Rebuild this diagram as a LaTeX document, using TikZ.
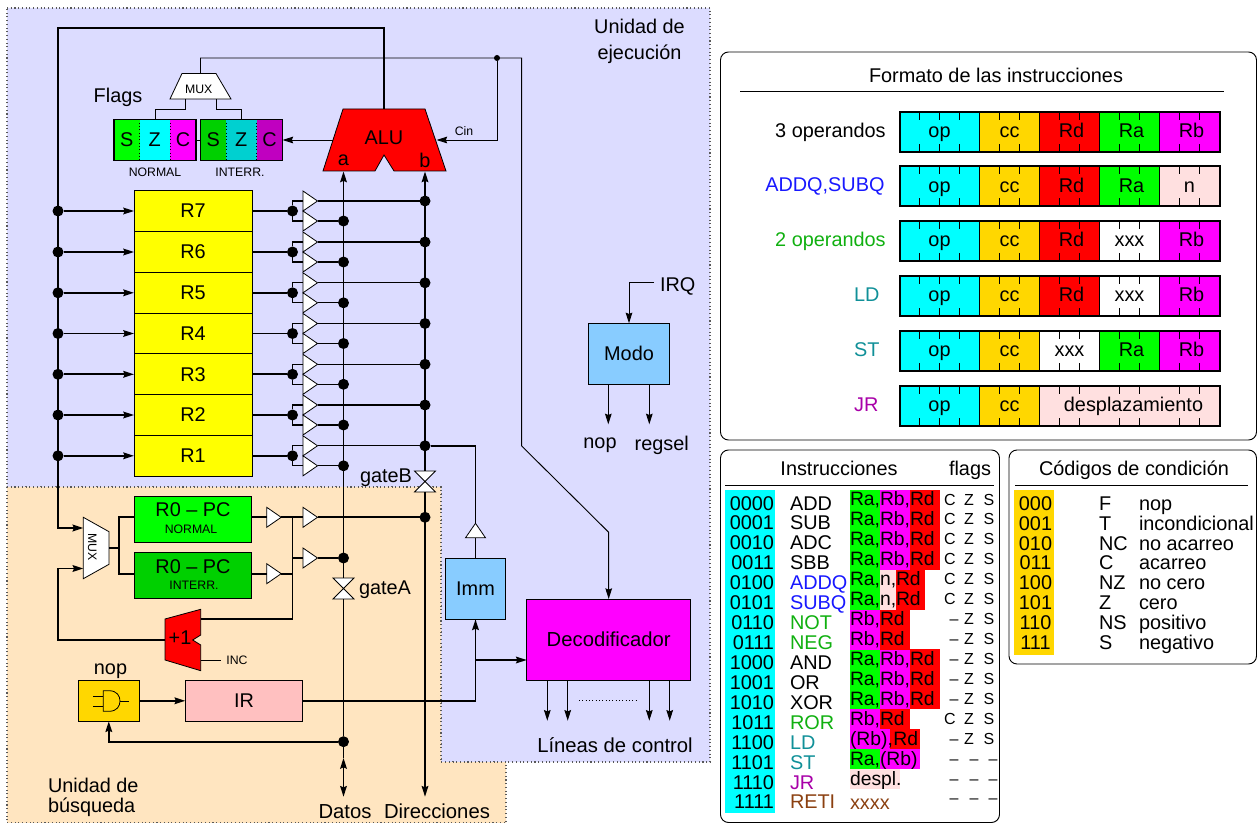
\documentclass[tikz,border=0pt]{standalone}
\usepackage{fontspec}
\setmainfont{Liberation Sans}
\usetikzlibrary{arrows.meta,shapes.geometric}

\definecolor{cyan}{RGB}{0,255,255}
\definecolor{magenta}{RGB}{255,0,255}
\definecolor{yellow}{RGB}{255,255,0}
\definecolor{green}{RGB}{0,255,0}
\definecolor{red}{RGB}{255,0,0}
\definecolor{execblue}{HTML}{DCDCFF}
\definecolor{fetchorange}{HTML}{FFE5C0}
\definecolor{boxblue}{HTML}{88CCFF}
\definecolor{gold}{HTML}{FFD700}
\definecolor{palepink}{HTML}{FFE0E0}
\definecolor{irpink}{HTML}{FFC0C0}
\definecolor{dimgreen}{HTML}{00D000}
\definecolor{dimcyan}{HTML}{00D0D0}
\definecolor{dimmagenta}{HTML}{C000C0}
\definecolor{txtblue}{HTML}{1818FF}
\definecolor{txtgreen}{HTML}{10B010}
\definecolor{txtteal}{HTML}{109098}
\definecolor{txtpurple}{HTML}{A800A8}
\definecolor{txtbrown}{HTML}{8B4010}

\newcommand{\px}{0.75pt}
\newcommand{\mainfont}{\fontsize{14.9pt}{17pt}\selectfont}
\newcommand{\widefont}{\fontsize{15.2pt}{17pt}\selectfont}
\newcommand{\tinyfont}{\fontsize{9.2pt}{11pt}\selectfont}
\newcommand{\flagfont}{\fontsize{12pt}{14pt}\selectfont}

\tikzset{
  every node/.style={inner sep=0pt, outer sep=0pt, font=\mainfont},
  bus/.style={line width=1.3pt},
  ctl/.style={line width=0.7pt},
  junction/.style={circle, fill=black, minimum size=11*\px},
  block/.style={draw, line width=0.7pt, minimum width=#1*\px},
  buf/.style={isosceles triangle, isosceles triangle stretches,
    draw, fill=white, line width=0.6pt, minimum width=20*\px, minimum height=14.5*\px},
  muxshape/.style={draw, fill=white, line width=0.6pt},
  flagbit/.style={minimum height=41*\px, minimum width=#1*\px, anchor=west},
  panel/.style={draw, line width=0.7pt, rounded corners=6pt, anchor=north west},
  fieldbox/.style={draw, line width=0.5pt, minimum height=40*\px, text height=11pt, text depth=2.6pt},
  fmtlabel/.style={anchor=base east},
  opfield/.style={anchor=base west, text width=#1*\px, align=left, text height=12pt, text depth=3pt,
    font=\fontsize{14.5pt}{17pt}\selectfont},
}

% one field of an instruction word
\newcommand{\fmtfield}[6]{\node[fieldbox, fill=#4, minimum width=#3*20*\px, anchor=north west] (#6) at ({899.5+#2*20},#1) {#5};}
% pass gate of the two buses
\newcommand{\passgate}[3]{
  \coordinate (#1top) at (#2,#3-10.5);
  \coordinate (#1bot) at (#2,#3+10.5);
  \draw[fill=white, line width=0.6pt] (#2-10.5,#3-10.5) -- (#2+10.5,#3-10.5) -- (#2-10.5,#3+10.5) -- (#2+10.5,#3+10.5) -- cycle;
}

\begin{document}
\begin{tikzpicture}[x=\px, y=-\px, >={Stealth[length=8pt,width=5pt,inset=1pt]}]
  \path[use as bounding box] (0,0) rectangle (1257,823);
  % Shaded units
  \draw[dotted, gray!70!black, line width=0.8pt, fill=execblue] (7,8) -- (710,8) -- (710,762) -- (441,762) -- (441,487) -- (7,487) -- cycle;
  \draw[dotted, gray!70!black, line width=0.8pt, fill=fetchorange] (7,487) -- (441,487) -- (441,762) -- (506,762) -- (506,823) -- (7,823) -- cycle;
  \node[align=center, font=\fontsize{14.9pt}{20pt}\selectfont] (unitexec) at (639.5,41.5) {Unidad de\\ejecución};
  \node[align=left, anchor=west, font=\fontsize{14.9pt}{15pt}\selectfont] (unitfetch) at (48,797) {Unidad de\\búsqueda};

  % ALU
  \draw[fill=red, line width=0.6pt] (343,109) -- (425,109) -- (446,171) -- (394,171) -- (384,155) -- (375,171) -- (323,171) -- cycle;
  \node (alu) at (384,138) {ALU};
  \node (alua) at (343.5,160) {a};
  \node (alub) at (425,160) {b};
  \coordinate (aluina) at (343.5,171.5);
  \coordinate (aluinb) at (425,171.5);
  \coordinate (aluout) at (384,109);
  \coordinate (aluflag) at (333,140);
  \coordinate (alucin) at (436.5,140);

  % Flags
  \node (flagstxt) at (118,97) {Flags};
  \node[flagbit=25.5, fill=green] (sn) at (114,140) {S};
  \node[flagbit=30.5, fill=cyan] (zn) at (sn.east) {Z};
  \node[flagbit=26, fill=magenta] (cn) at (zn.east) {C};
  \node[flagbit=25.5, fill=dimgreen] (si) at (200.5,140) {S};
  \node[flagbit=30.5, fill=dimcyan] (zi) at (si.east) {Z};
  \node[flagbit=26, fill=dimmagenta] (ci) at (zi.east) {C};
  \draw[line width=0.8pt] (sn.north west) rectangle (cn.south east);
  \draw[line width=0.8pt] (si.north west) rectangle (ci.south east);
  \draw[dotted, line width=0.5pt] (sn.north east) -- (sn.south east);
  \draw[dotted, line width=0.5pt] (zn.north east) -- (zn.south east);
  \draw[dotted, line width=0.5pt] (si.north east) -- (si.south east);
  \draw[dotted, line width=0.5pt] (zi.north east) -- (zi.south east);
  \node[font=\tinyfont] (normaltxt) at (155,172) {NORMAL};
  \node[font=\tinyfont] (interrtxt) at (240,172) {INTERR.};
  \draw[ctl] (cn.east) -- (si.west);
  \draw[ctl,->] (aluflag) -- (ci.east);

  % Flags multiplexer
  \draw[muxshape] (170,99) -- (182,73.5) -- (216,73.5) -- (231,99) -- cycle;
  \node[font=\tinyfont] (topmux) at (198.7,89.3) {MUX};
  \coordinate (topmuxin) at (200.5,73.5);
  \coordinate (topmuxl) at (185,99);
  \coordinate (topmuxr) at (216,99);
  \draw[ctl] (topmuxl) -- (185,109.5) -- (155,109.5) -- (155,119.5);
  \draw[ctl] (topmuxr) -- (216,109.5) -- (241.5,109.5) -- (241.5,119.5);

  % Registers with their tri-state buffers
  \foreach \n/\y in {7/211,6/252,5/292.8,4/333.5,3/374.3,2/415,1/455.8} {
    \node[block=118, fill=yellow, minimum height=40.8*\px] (r\n) at (193,\y) {R\n};
    \node[junction] (sel\n) at (58,\y) {};
    \node[junction] (out\n) at (292.5,\y) {};
    \node[buf, anchor=lower side] (bufb\n) at (303,\y-10) {};
    \node[buf, anchor=lower side] (bufa\n) at (303,\y+10) {};
    \node[junction] (dotb\n) at (425,\y-10) {};
    \node[junction] (dota\n) at (343.5,\y+10) {};
    \draw[bus,->] (sel\n) -- (r\n);
    \draw[bus] (r\n) -- (out\n);
    \draw[line width=1pt] (bufb\n.lower side) -| (out\n);
    \draw[line width=1pt] (bufa\n.lower side) -| (out\n);
    \draw[line width=1pt] (bufb\n.apex) -- (dotb\n);
    \draw[line width=1pt] (bufa\n.apex) -- (dota\n);
  }

  % Program counters
  \node[block=117.5, fill=green, minimum height=46*\px] (pcn) at (193,519.7) {};
  \node (pcntxt) at (193,510) {R0 -- PC};
  \node[font=\tinyfont] (pcnsub) at (191,529) {NORMAL};
  \node[block=117.5, fill=dimgreen, minimum height=46.3*\px] (pci) at (193,575.8) {};
  \node (pcitxt) at (193,567) {R0 -- PC};
  \node[font=\tinyfont] (pcisub) at (194,585) {INTERR.};
  \draw[muxshape] (83.3,517.3) -- (109,531.7) -- (109,564.3) -- (83.3,578.7) -- cycle;
  \node[font=\tinyfont, rotate=-90] (lowmux) at (92.3,546.7) {MUX};
  \coordinate (lowmuxa) at (83.3,528);
  \coordinate (lowmuxb) at (83.3,568.5);
  \coordinate (lowmuxout) at (109,548);
  \coordinate (pcfork) at (119,548);
  \node[buf, anchor=lower side] (bufpcn) at (266.7,517.3) {};
  \node[buf, anchor=lower side] (bufpci) at (266.7,573.7) {};
  \node[buf, anchor=lower side] (bufdir) at (303,517.3) {};
  \node[buf, anchor=lower side] (bufdat) at (303,558) {};
  \coordinate (pcbus) at (292.5,517.3);
  \coordinate (pcbusend) at (292.5,619.3);
  \draw[bus] (lowmuxout) -- (pcfork);
  \draw[bus] (pcn.west |- bufpcn.lower side) -- (pcfork |- bufpcn.lower side) -- (pcfork |- bufpci.lower side) -- (pci.west |- bufpci.lower side);
  \draw[bus] (pcn.east |- bufpcn.lower side) -- (bufpcn.lower side);
  \draw[bus] (pci.east |- bufpci.lower side) -- (bufpci.lower side);
  \draw[bus] (bufpcn.apex) -- (bufdir.lower side);
  \draw[bus] (bufpci.apex) -- (pcbus |- bufpci.apex);

  % Incrementer
  \draw[fill=red, line width=0.6pt] (165,619) -- (200.7,609.3) -- (200.7,635) -- (192.7,640) -- (200.7,645) -- (200.7,670.7) -- (165,660) -- cycle;
  \node (inc) at (180,638) {+1};
  \node[font=\tinyfont] (inctxt) at (237,660.5) {INC};
  \coordinate (incin) at (165,640);
  \coordinate (incout) at (200.7,619.3);
  \coordinate (incctl) at (200.7,660.5);
  \draw[bus] (pcbus) -- (pcbusend) -- (incout);
  \draw[ctl] (incctl) -- (221,660.5);
  \draw[bus,->] (incin) -- (57.7,640) -- (57.7,568.5) -- (lowmuxb);

  % Result bus back to the registers
  \draw[line width=1.6pt,->] (aluout) -- (384,28) -- (58,28) -- (58,528) -- (lowmuxa);

  % Instruction register and nop gate
  \node[block=61, fill=gold, minimum height=41*\px] (nopgate) at (108.8,700.8) {};
  \node (noptxt) at (110.5,671) {nop};
  \draw[line width=0.6pt] (103.3,690.7) -- (109,690.7) .. controls (117,690.7) and (120,696) .. (120,701) .. controls (120,706) and (117,711.3) .. (109,711.3) -- (103.3,711.3) -- cycle;
  \draw[line width=0.6pt] (93.3,696) -- (103.3,696);
  \draw[line width=0.6pt] (93.3,706) -- (103.3,706);
  \draw[line width=0.6pt] (120,701) -- (129,701);
  \node[block=117.5, fill=irpink, minimum height=41*\px] (ir) at (244,700.8) {IR\hspace{4.5pt}};
  \node[block=60, fill=boxblue, minimum height=61.3*\px] (imm) at (475.5,588.7) {Imm};
  \node[buf, shape border rotate=90, anchor=apex] (bufimm) at (475.5,523.3) {};
  \node[block=164, fill=magenta, minimum height=81*\px, font=\widefont] (dec) at (608.7,639.5) {Decodificador};
  \coordinate (irjoin) at (475.5,660);
  \draw[bus,->] (nopgate) -- (ir);
  \draw[bus,->] (ir) -| (imm);
  \draw[bus,->] (irjoin) -- (dec.west |- irjoin);
  \draw[bus] (bufimm.lower side) -- (imm);

  % Buses and gates
  \passgate{gateb}{425}{481.5}
  \passgate{gatea}{343.5}{588.5}
  \node[anchor=east] (gatebtxt) at (412,478) {gateB};
  \node[anchor=west] (gateatxt) at (359,590) {gateA};
  \node[junction] (dotdir) at (425,517.3) {};
  \node[junction] (dotpca) at (343.5,558) {};
  \node[junction] (dotdatos) at (343.5,741.7) {};
  \node[font=\widefont] (datos) at (345,811.5) {Datos};
  \node[font=\widefont] (direc) at (437,811.5) {Direcciones};
  \coordinate (datosup) at (343.5,758);
  \coordinate (datosdown) at (343.5,796.7);
  \coordinate (direcdown) at (425,796.7);
  \draw[bus,->] (gateatop) -- (aluina);
  \draw[bus,->] (gatebtop) -- (aluinb);
  \draw[bus] (gateabot) -- (dotdatos);
  \draw[bus,->] (gatebbot) -- (direcdown);
  \draw[bus,<->] (datosup) -- (datosdown);
  \draw[bus] (dotdatos) -- (datosup);
  \draw[bus,->] (dotdatos) -| (nopgate);
  \draw[bus] (bufdir.apex) -- (dotdir);
  \draw[bus] (bufdat.lower side) -- (pcbus |- bufdat.lower side);
  \draw[bus] (bufdat.apex) -- (dotpca);
  \draw[bus] (dotb1) -| (bufimm.apex);

  % Control wires
  \node[junction, minimum size=6*\px] (cindot) at (497,58) {};
  \node[font=\tinyfont] (cintxt) at (464,131) {Cin};
  \coordinate (turna) at (521.7,58);
  \coordinate (turnb) at (521.7,446);
  \coordinate (turnc) at (608.7,532.3);
  \draw[ctl,->] (topmuxin) |- (turna) -- (turnb) -- (turnc) -- (dec.north);
  \draw[ctl,->] (cindot) |- (alucin);

  % Mode block
  \node[block=81.4, fill=boxblue, minimum height=61.4*\px] (modo) at (629,354) {\raisebox{1.5pt}{Modo}};
  \node[anchor=west] (irqtxt) at (660,286) {IRQ};
  \coordinate (irqin) at (654,282.7);
  \coordinate (modonop) at (608.3,424.3);
  \coordinate (modosel) at (649.3,424.3);
  \node (noptxtb) at (600,445.5) {nop};
  \node (regseltxt) at (661.7,445.5) {regsel};
  \draw[ctl,->] (irqin) -| (modo);
  \draw[ctl,->] (modo.south -| modonop) -- (modonop);
  \draw[ctl,->] (modo.south -| modosel) -- (modosel);

  % Control lines
  \foreach \x [count=\k] in {547.3,567.7,649.3,669.7} {
    \coordinate (line\k) at (\x,720.7);
    \draw[ctl,->] (dec.south -| line\k) -- (line\k);
  }
  \draw[dotted, line width=0.5pt] (579,700) -- (637,700);
  \node[font=\widefont] (linestxt) at (615,745) {Líneas de control};

  % Instruction formats
  \node[panel, minimum width=536*\px, minimum height=388*\px] (fmtpanel) at (720.5,52) {};
  \node (fmttitle) at (996,75) {Formato de las instrucciones};
  \draw[line width=0.7pt] (740,91.7) -- (1224,91.7);
  \foreach \y/\k in {111.7/a,166.5/b,221.3/c,276/d,330.8/e,385.6/f} {
    \fmtfield{\y}{0}{4}{cyan}{op}{op\k}
    \fmtfield{\y}{4}{3}{gold}{cc}{cc\k}
  }
  \fmtfield{111.7}{7}{3}{red}{\hspace{3pt}Rd}{rda}
  \fmtfield{111.7}{10}{3}{green}{\hspace{3pt}Ra}{raa}
  \fmtfield{111.7}{13}{3}{magenta}{\hspace{3pt}Rb}{rba}
  \fmtfield{166.5}{7}{3}{red}{\hspace{3pt}Rd}{rdb}
  \fmtfield{166.5}{10}{3}{green}{\hspace{3pt}Ra}{rab}
  \fmtfield{166.5}{13}{3}{palepink}{n}{nb}
  \fmtfield{221.3}{7}{3}{red}{\hspace{3pt}Rd}{rdc}
  \fmtfield{221.3}{10}{3}{white}{xxx}{xc}
  \fmtfield{221.3}{13}{3}{magenta}{\hspace{3pt}Rb}{rbc}
  \fmtfield{276}{7}{3}{red}{\hspace{3pt}Rd}{rdd}
  \fmtfield{276}{10}{3}{white}{xxx}{xd}
  \fmtfield{276}{13}{3}{magenta}{\hspace{3pt}Rb}{rbd}
  \fmtfield{330.8}{7}{3}{white}{xxx}{xe}
  \fmtfield{330.8}{10}{3}{green}{\hspace{3pt}Ra}{rae}
  \fmtfield{330.8}{13}{3}{magenta}{\hspace{3pt}Rb}{rbe}
  \fmtfield{385.6}{7}{9}{palepink}{\hspace{6pt}desplazamiento}{despl}
  \foreach \y in {111.7,166.5,221.3,276,330.8,385.6} {
    \draw[line width=1.5pt] (899.5,\y) rectangle (1219.5,\y+40);
    \foreach \k in {1,2,3,5,6,8,9,11,12,14,15} {
      \draw[line width=0.4pt] ({899.5+\k*20},\y) -- ({899.5+\k*20},\y+8);
      \draw[line width=0.4pt] ({899.5+\k*20},\y+40) -- ({899.5+\k*20},\y+32);
    }
  }
  \node[fmtlabel] (lba) at (885.7,137.2) {3 operandos};
  \node[fmtlabel, text=txtblue] (lbb) at (884.5,192) {ADDQ,SUBQ};
  \node[fmtlabel, text=txtgreen] (lbc) at (885.7,246.8) {2 operandos};
  \node[fmtlabel, text=txtteal] (lbd) at (879.5,301.5) {LD};
  \node[fmtlabel, text=txtteal] (lbe) at (879.5,356.3) {ST};
  \node[fmtlabel, text=txtpurple] (lbf) at (878.5,411.1) {JR};

  % Instruction table
  \node[panel, minimum width=279*\px, minimum height=372.5*\px] (instpanel) at (720.5,450) {};
  \node[anchor=base] (insttitle) at (839,475.5) {Instrucciones};
  \node[anchor=base] (flagstitle) at (970,475.5) {flags};
  \draw[line width=0.7pt] (725,485) -- (994,485);
  \fill[cyan] (725,490) rectangle (775,813);
  \foreach \code/\mnem/\col [count=\i from 0] in {0000/ADD/black,0001/SUB/black,0010/ADC/black,0011/SBB/black,0100/ADDQ/txtblue,0101/SUBQ/txtblue,0110/NOT/txtgreen,0111/NEG/txtgreen,1000/AND/black,1001/OR/black,1010/XOR/black,1011/ROR/txtgreen,1100/LD/txtteal,1101/ST/txtteal,1110/JR/txtpurple,1111/RETI/txtbrown} {
    \node[anchor=base east] (code\i) at (774,510+19.93*\i) {\code};
    \node[anchor=base west, text=\col] (mnem\i) at (790,510+19.93*\i) {\mnem};
  }
  \foreach \i in {0,1,2,3,8,9,10} {
    \node[opfield=30, fill=green] (oa\i) at (850,506+19.93*\i) {Ra,};
    \node[opfield=30, fill=magenta] (ob\i) at (880,506+19.93*\i) {Rb,};
    \node[opfield=30, fill=red] (od\i) at (910,506+19.93*\i) {Rd};
  }
  \foreach \i in {4,5} {
    \node[opfield=30, fill=green] (oa\i) at (850,506+19.93*\i) {Ra,};
    \node[opfield=16, fill=palepink] (on\i) at (880,506+19.93*\i) {n,};
    \node[opfield=29, fill=red] (od\i) at (896,506+19.93*\i) {Rd};
  }
  \foreach \i in {6,7,11} {
    \node[opfield=30, fill=magenta] (ob\i) at (850,506+19.93*\i) {Rb,};
    \node[opfield=30, fill=red] (od\i) at (880,506+19.93*\i) {Rd};
  }
  \node[opfield=30, fill=red] (odm) at (890,745.2) {\hspace*{2.5pt}Rd};
  \node[opfield=40, fill=magenta] (obm) at (850,745.2) {(Rb)\rlap{,}};
  \node[opfield=30, fill=green] (oas) at (850,765.1) {Ra,};
  \node[opfield=40, fill=magenta] (obs) at (880,765.1) {(Rb)};
  \node[opfield=50, fill=palepink] (ojr) at (850,785) {despl\rlap{.}};
  \node[anchor=base west, text=txtbrown] (oret) at (850,809) {xxxx};
  \foreach \i in {0,1,2,3,4,5,11} {
    \node[font=\flagfont, anchor=base] (fc\i) at (950,505+19.93*\i) {C};
  }
  \foreach \i in {6,7,8,9,10,12,13,14,15} {
    \node[font=\flagfont, anchor=base] (fc\i) at (954,505+19.93*\i) {--};
  }
  \foreach \i in {0,...,12} {
    \node[font=\flagfont, anchor=base] (fz\i) at (969,505+19.93*\i) {Z};
    \node[font=\flagfont, anchor=base] (fs\i) at (989,505+19.93*\i) {S};
  }
  \foreach \i in {13,14,15} {
    \node[font=\flagfont, anchor=base] (fz\i) at (974,505+19.93*\i) {--};
    \node[font=\flagfont, anchor=base] (fs\i) at (993,505+19.93*\i) {--};
  }

  % Condition codes
  \node[panel, minimum width=247.5*\px, minimum height=214*\px] (ccpanel) at (1009,450) {};
  \node[anchor=base] (cctitle) at (1134,475.5) {Códigos de condición};
  \draw[line width=0.7pt] (1015,485) -- (1248,485);
  \fill[gold] (1014,490) rectangle (1054,655);
  \foreach \code/\mnem/\txt [count=\i from 0] in {000/F/nop,001/T/incondicional,010/NC/no acarreo,011/C/acarreo,100/NZ/no cero,101/Z/cero,110/NS/positivo,111/S/negativo} {
    \node[anchor=base] (cc\i) at (1035.5,510.5+19.8*\i) {\code};
    \node[anchor=base west] (ccm\i) at (1099,510.5+19.8*\i) {\mnem};
    \node[anchor=base west] (cct\i) at (1139,510.5+19.8*\i) {\txt};
  }
\end{tikzpicture}
\end{document}
